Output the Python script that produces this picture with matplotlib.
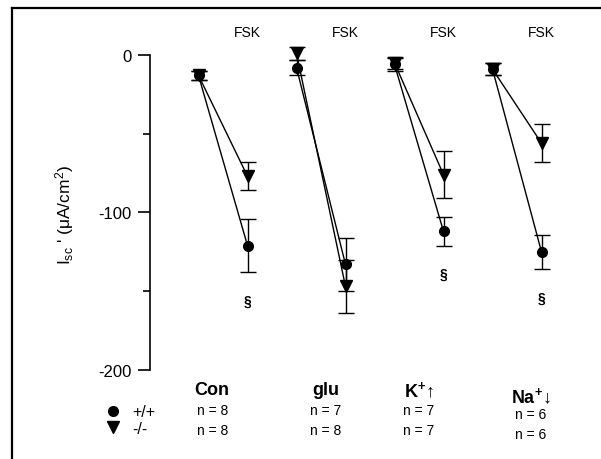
import matplotlib.pyplot as plt
from matplotlib.lines import Line2D

plt.rcParams['font.family'] = ['Liberation Sans', 'DejaVu Sans']
plt.rcParams['axes.unicode_minus'] = False
plt.rcParams['mathtext.fontset'] = 'custom'
plt.rcParams['mathtext.rm'] = 'Liberation Sans'
plt.rcParams['mathtext.it'] = 'Liberation Sans'
plt.rcParams['mathtext.bf'] = 'Liberation Sans:bold'

# Data
groups = ['Con', 'glu', r'$\mathbf{K^{+}}$↑', r'$\mathbf{Na^{+}}$↓']
n_wt = [8, 7, 7, 6]
n_ko = [8, 8, 7, 6]

wt_pre = [-13, -8, -6, -9]
wt_pre_err = [3, 5, 4, 4]
wt_fsk = [-121, -133, -112, -125]
wt_fsk_err = [17, 17, 9, 11]

ko_pre = [-13, 1, -5, -9]
ko_pre_err = [3, 4, 4, 4]
ko_fsk = [-77, -147, -76, -56]
ko_fsk_err = [9, 17, 15, 12]

signif = [True, False, True, True]

# layout helpers
label_dx = [0.14, 0.30, 0.25, 0.39]
label_y = [-212.7, -212.7, -212.7, -216.5]
n_y1 = [-225.4, -225.4, -225.4, -227.9]
n_y2 = [-238.1, -238.1, -238.1, -240.6]

fig = plt.figure(figsize=(6.01, 4.60), dpi=100)
ax = fig.add_axes([149.5 / 601, 1 - 457.6 / 460, 441 / 601, 448.9 / 460])

for i in range(len(groups)):
    x = [i, i + 0.5]
    ax.errorbar(x, [wt_pre[i], wt_fsk[i]], yerr=[wt_pre_err[i], wt_fsk_err[i]],
                color='black', marker='o', ms=7, lw=1, elinewidth=1,
                capsize=6, capthick=1, clip_on=False)
    ax.errorbar(x, [ko_pre[i], ko_fsk[i]], yerr=[ko_pre_err[i], ko_fsk_err[i]],
                color='black', marker='v', ms=8, lw=1, elinewidth=1,
                capsize=6, capthick=1, clip_on=False)
    ax.text(i + 0.5, 14.6, 'FSK', ha='center', va='center', fontsize=10)
    if signif[i]:
        ax.text(i + 0.5, wt_fsk[i] - wt_fsk_err[i] - 18, '§', ha='center',
                va='center', fontsize=10, fontweight='bold')
    ax.text(i + label_dx[i], label_y[i], groups[i], ha='center', va='center',
            fontsize=13, fontweight='bold')
    ax.text(i + label_dx[i], n_y1[i], 'n = %d' % n_wt[i], ha='center',
            va='center', fontsize=10)
    ax.text(i + label_dx[i], n_y2[i], 'n = %d' % n_ko[i], ha='center',
            va='center', fontsize=10)

ax.set_xlim(-0.5, 4.0)
ax.set_ylim(-255, 30)
for s in ['top', 'right', 'bottom']:
    ax.spines[s].set_visible(False)
ax.spines['left'].set_bounds(-200, 0)
ax.spines['left'].set_linewidth(1.2)
ax.set_xticks([])
ax.set_yticks([0, -100, -200])
ax.set_yticks([-50, -150], minor=True)
ax.tick_params(axis='y', which='major', length=9, width=1.2, labelsize=12, pad=4)
ax.tick_params(axis='y', which='minor', length=5, width=1.2)
ax.set_ylabel(r"I$_{\rm sc}$ ' ($\mu$A/cm$^{2}$)", fontsize=12.5)
ax.yaxis.set_label_coords(-74 / 441, (457.6 - 215) / 448.9)
ax.patch.set_visible(False)

handles = [Line2D([], [], color='black', marker='o', ls='none', ms=7),
           Line2D([], [], color='black', marker='v', ls='none', ms=8)]
fig.legend(handles, ['+/+', '-/-'], loc='center', bbox_to_anchor=(131 / 601, 1 - 421 / 460),
           frameon=False, fontsize=11.5, handlelength=0.8, handletextpad=0.8,
           labelspacing=0.1)

# frame lines
fig.add_artist(Line2D([12 / 601, 12 / 601], [0, 1 - 9 / 460], color='black', lw=1.6))
fig.add_artist(Line2D([12 / 601, 1], [1 - 9 / 460, 1 - 9 / 460], color='black', lw=1.6))

fig.savefig('out.png', dpi=100)
